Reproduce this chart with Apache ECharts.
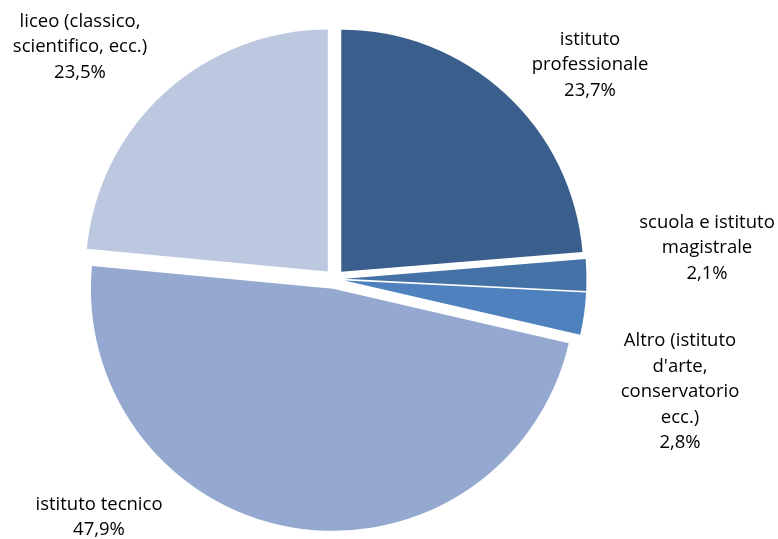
<!DOCTYPE html>
<html>
<head>
<meta charset="utf-8">
<script src="https://cdn.jsdelivr.net/npm/echarts@6/dist/echarts.min.js"></script>
<style>html,body{margin:0;padding:0;background:#fff}#c{width:778px;height:539px}</style>
</head>
<body>
<div id="c"></div>
<script>
var categories = ['istituto\nprofessionale', 'scuola e istituto\nmagistrale', "Altro (istituto\nd'arte,\nconservatorio\necc.)", 'istituto tecnico', 'liceo (classico,\nscientifico, ecc.)'];
var values = [23.7, 2.1, 2.8, 47.9, 23.5];
var colors = ['#3B5F8D', '#4572A6', '#4E81BD', '#95A9D0', '#BCC8E0'];
var labelPos = [[590, 65], [707, 248], [680, 392], [99, 517], [80, 47]];

function fmt(v) { return v.toFixed(1).replace('.', ',') + '%'; }

var chart = echarts.init(document.getElementById('c'), null, {renderer: 'canvas'});
chart.setOption({
  animation: false,
  graphic: categories.map(function (n, i) {
    return {
      type: 'text',
      x: labelPos[i][0],
      y: labelPos[i][1],
      silent: true,
      style: {
        text: n + '\n' + fmt(values[i]),
        fill: '#000',
        font: '18.5px "Open Sans"',
        lineHeight: 25.5,
        align: 'center',
        verticalAlign: 'middle',
        textAlign: 'center',
        textVerticalAlign: 'middle'
      }
    };
  }),
  series: [{
    type: 'pie',
    center: [334.5, 279],
    radius: 242,
    startAngle: 90,
    clockwise: true,
    selectedMode: 'multiple',
    selectedOffset: 10,
    emphasis: {disabled: true},
    label: {show: false},
    labelLine: {show: false},
    data: categories.map(function (n, i) {
      return {name: n, value: values[i], selected: true, itemStyle: {color: colors[i]}};
    })
  }]
});
</script>
</body>
</html>
